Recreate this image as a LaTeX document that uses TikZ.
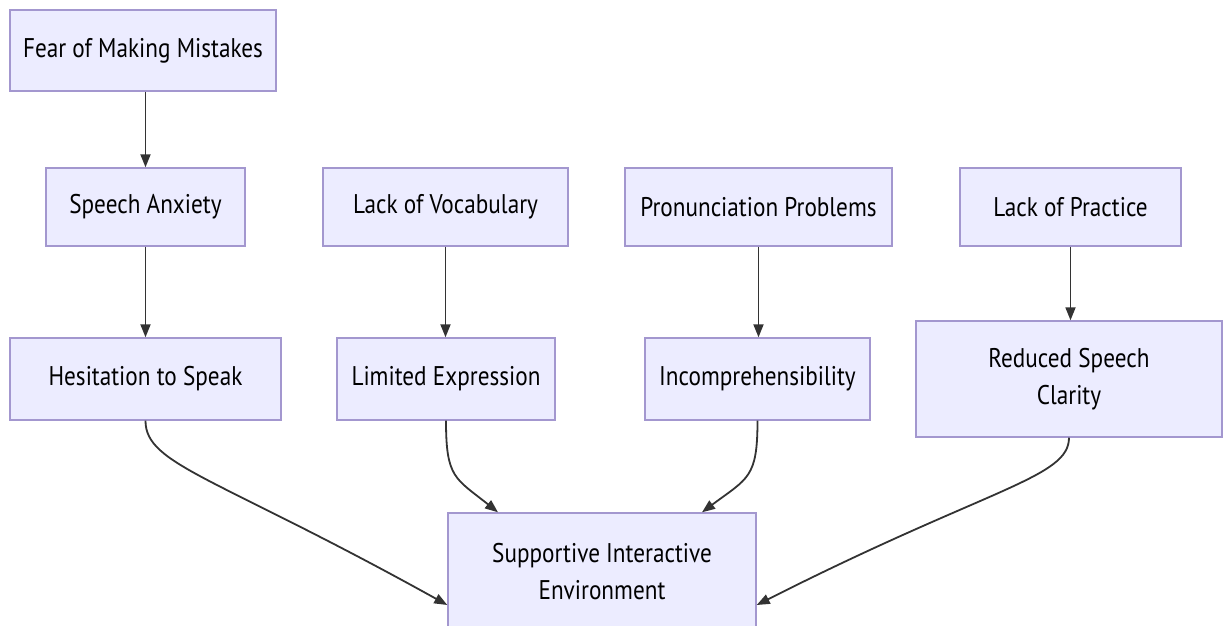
\documentclass[tikz,border=0pt]{standalone}
\usepackage{fontspec}
\setmainfont[FakeStretch=0.86]{PT Sans}
\usetikzlibrary{arrows.meta}
\definecolor{boxfill}{HTML}{ECECFF}
\definecolor{boxdraw}{HTML}{A397CF}
\definecolor{edgecol}{HTML}{333333}
\tikzset{
  box/.style={draw=boxdraw, fill=boxfill, line width=1.4pt, inner sep=0pt, align=center,
    font=\fontsize{27}{37}\selectfont, text=black},
  link/.style={draw=edgecol, line width=1.8pt, -{Triangle[length=13pt,width=10pt]}}
}
\begin{document}
\begin{tikzpicture}[x=1pt,y=-1pt]
\useasboundingbox (0,0) rectangle (1227,625);
\begin{scope}
\clip (0,0) rectangle (1227,625);
\node[box, minimum width=266pt, minimum height=81pt] (fear) at (143,50.5) {Fear of Making Mistakes};
\node[box, minimum width=199pt, minimum height=78pt] (anx) at (145.5,207) {Speech Anxiety};
\node[box, minimum width=245pt, minimum height=78pt] (voc) at (445.5,207) {Lack of Vocabulary};
\node[box, minimum width=267pt, minimum height=78pt] (pron) at (758.5,207) {Pronunciation Problems};
\node[box, minimum width=221pt, minimum height=78pt] (prac) at (1070.5,207) {Lack of Practice};
\node[box, minimum width=271pt, minimum height=82pt] (hes) at (145.5,379) {Hesitation to Speak};
\node[box, minimum width=218pt, minimum height=82pt] (lim) at (446,379) {Limited Expression};
\node[box, minimum width=225pt, minimum height=82pt] (inc) at (757.5,379) {Incomprehensibility};
\node[box, minimum width=306pt, minimum height=116pt] (red) at (1069,379) {Reduced Speech\\Clarity};
\node[box, minimum width=308pt, minimum height=118pt] (sup) at (602,572) {Supportive Interactive\\Environment};
\end{scope}
\draw[link] (anx.north |- fear.south) -- (anx.north);
\draw[link] (anx.south) -- (anx.south |- hes.north);
\draw[link] (voc.south) -- (voc.south |- lim.north);
\draw[link] (pron.south) -- (pron.south |- inc.north);
\draw[link] (prac.south) -- (prac.south |- red.north);
\draw[link] (hes.south) .. controls (145.5,465) and (215,476) .. ([yshift=-33pt]sup.west);
\draw[link] (lim.south) .. controls (446,478) and (455,478) .. ([xshift=-104pt]sup.north);
\draw[link] (inc.south) .. controls (757.5,478) and (748,478) .. ([xshift=100pt]sup.north);
\draw[link] (red.south) .. controls (1069,478) and (990,487) .. ([yshift=-33pt]sup.east);
\end{tikzpicture}
\end{document}
